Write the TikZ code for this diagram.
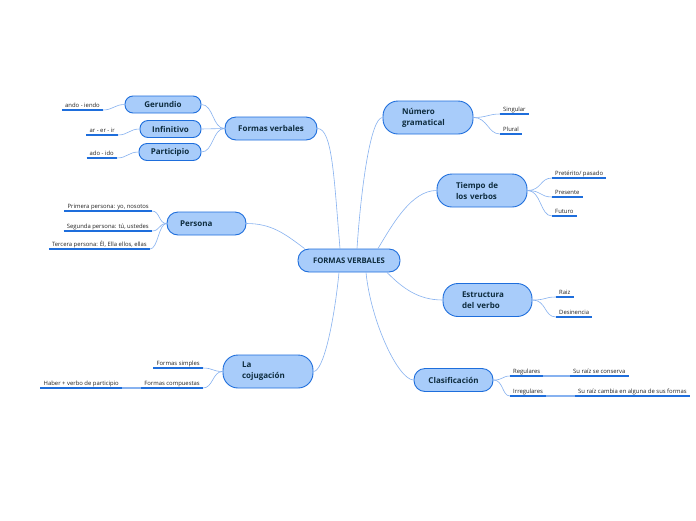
\documentclass[tikz,border=0pt]{standalone}
\usepackage{fontspec}
\setmainfont{Open Sans}
\usepackage{tikz}
\usetikzlibrary{positioning}
\definecolor{nodefill}{RGB}{168,204,250}
\definecolor{nodeblue}{RGB}{30,110,220}
\definecolor{linkblue}{RGB}{135,178,240}
\definecolor{nodetext}{RGB}{14,44,62}
\definecolor{leaftext}{RGB}{35,35,35}

\begin{document}
\begin{tikzpicture}[x=1pt, y=-1pt,
  topic/.style={draw=nodeblue, fill=nodefill, line width=0.9pt, text=nodetext,
    font=\bfseries\fontsize{8}{11}\selectfont, inner xsep=0pt, inner ysep=0pt},
  one/.style={minimum height=23pt, rounded corners=11pt},
  small/.style={minimum height=17pt, rounded corners=8pt},
  two/.style={minimum height=33pt, rounded corners=15pt, text width=52pt, inner xsep=19pt, align=left},
  leaf/.style={text=leaftext, font=\fontsize{5.9}{7}\selectfont, inner xsep=3pt, inner ysep=1pt,
    text height=4.5pt, text depth=1.5pt},
  link/.style={draw=linkblue, line width=0.6pt},
  uline/.style={draw=nodeblue, line width=1.3pt}]

  % Canvas
  \fill[white] (0,0) rectangle (696,520);
  \useasboundingbox (0,0) rectangle (696,520);

  % Central topic
  \node[topic, minimum width=102pt, minimum height=23pt, rounded corners=11pt,
    font=\bfseries\fontsize{7.7}{9}\selectfont] (cent) at (349,260.5) {FORMAS VERBALES};

  % Left - Formas verbales
  \node[topic, one, minimum width=92pt] (fverb) at (271,128.5) {Formas verbales};
  \node[topic, small, minimum width=76pt] (gerund) at (163,104.5) {Gerundio};
  \node[topic, small, minimum width=61pt] (infin) at (170.5,129) {Infinitivo};
  \node[topic, small, minimum width=62pt] (partic) at (170,152) {Participio};
  \node[leaf, anchor=south east] (gerundL) at (103,110) {ando - iendo};
  \node[leaf, anchor=south east] (infinL) at (118,135) {ar - er - ir};
  \node[leaf, anchor=south east] (particL) at (117,158) {ado - ido};

  % Left - Persona
  \node[topic, one, text width=53pt, inner xsep=13pt, align=left] (persona) at (206.5,223.5) {Persona};
  \node[leaf, anchor=south east] (primL) at (152,211) {Primera persona: yo, nosotos};
  \node[leaf, anchor=south east] (segL) at (152,231) {Segunda persona: tú, ustedes};
  \node[leaf, anchor=south east] (terL) at (150,249) {Tercera persona: Él, Ella ellos, ellas};

  % Left - La cojugacion
  \node[topic, two] (conj) at (268,371.5) {La\\cojugación};
  \node[leaf, anchor=south east] (simpL) at (203,368) {Formas simples};
  \node[leaf, anchor=south east] (compL) at (203,388) {Formas compuestas};
  \node[leaf, anchor=south east] (haberL) at (122,388) {Haber + verbo de participio};

  % Right - Numero gramatical
  \node[topic, two] (numero) at (428,117.5) {Número\\gramatical};
  \node[leaf, anchor=south west] (singL) at (500,114) {Singular};
  \node[leaf, anchor=south west] (plurL) at (500,134) {Plural};

  % Right - Tiempo de los verbos
  \node[topic, two] (tiempo) at (482,190.5) {Tiempo de\\los verbos};
  \node[leaf, anchor=south west] (pretL) at (552,178) {Pretérito/ pasado};
  \node[leaf, anchor=south west] (presL) at (552,197) {Presente};
  \node[leaf, anchor=south west] (futL) at (552,216) {Futuro};

  % Right - Estructura del verbo
  \node[topic, two, text width=51pt] (estruc) at (487.5,300) {Estructura\\del verbo};
  \node[leaf, anchor=south west] (raizL) at (556,297) {Raiz};
  \node[leaf, anchor=south west] (desL) at (556,317) {Desinencia};

  % Right - Clasificacion
  \node[topic, one, minimum width=79pt] (clasif) at (453.5,380) {Clasificación};
  \node[leaf, anchor=south west] (regL) at (510,376) {Regulares};
  \node[leaf, anchor=south west] (irregL) at (510,396) {Irregulares};
  \node[leaf, anchor=south west] (conservaL) at (570,376) {Su raíz se conserva};
  \node[leaf, anchor=south west] (cambiaL) at (575,396) {Su raíz cambia en alguna de sus formas};

  % Main branches
  \draw[link] (fverb.east) .. controls +(15,0) and +(-6,-70) .. ([xshift=-9pt]cent.north);
  \draw[link] (persona.east) .. controls +(25,0) and +(-20,-15) .. ([xshift=7pt]cent.north west);
  \draw[link] (conj.east) .. controls +(10,0) and +(-5,50) .. ([xshift=-10pt]cent.south);
  \draw[link] (numero.west) .. controls +(-12,0) and +(4,-60) .. ([xshift=8pt]cent.north);
  \draw[link] (tiempo.west) .. controls +(-25,0) and +(15,-25) .. ([xshift=29pt]cent.north);
  \draw[link] (estruc.west) .. controls +(-25,0) and +(15,15) .. ([xshift=38pt]cent.south);
  \draw[link] (clasif.west) .. controls +(-15,0) and +(5,50) .. ([xshift=17pt]cent.south);

  % Sub branches, left side
  \foreach \c in {gerund, infin, partic}
    \draw[link] (fverb.west) .. controls +(-12,0) and +(12,0) .. (\c.east);
  \foreach \a/\b in {gerund/gerundL, infin/infinL, partic/particL}
    \draw[link] (\a.west) .. controls +(-10,0) and +(10,0) .. (\b.south east);
  \foreach \b in {primL, segL, terL}
    \draw[link] (persona.west) .. controls +(-8,0) and +(8,0) .. (\b.south east);
  \foreach \b in {simpL, compL}
    \draw[link] (conj.west) .. controls +(-10,0) and +(10,0) .. (\b.south east);
  \draw[linkblue, line width=1.2pt] (compL.south west) -- (haberL.south east);

  % Sub branches, right side
  \foreach \b in {singL, plurL}
    \draw[link] (numero.east) .. controls +(14,0) and +(-12,0) .. (\b.south west);
  \foreach \b in {pretL, presL, futL}
    \draw[link] (tiempo.east) .. controls +(14,0) and +(-12,0) .. (\b.south west);
  \foreach \b in {raizL, desL}
    \draw[link] (estruc.east) .. controls +(14,0) and +(-12,0) .. (\b.south west);
  \foreach \b in {regL, irregL}
    \draw[link] (clasif.east) .. controls +(10,0) and +(-8,0) .. (\b.south west);
  \draw[linkblue, line width=1.2pt] (regL.south east) -- (conservaL.south west);
  \draw[linkblue, line width=1.2pt] (irregL.south east) -- (cambiaL.south west);

  % Leaf underlines
  \foreach \n in {gerundL, infinL, particL, primL, segL, terL, simpL, compL, haberL,
      singL, plurL, pretL, presL, futL, raizL, desL, regL, irregL, conservaL, cambiaL}
    \draw[uline] (\n.south west) -- (\n.south east);

\end{tikzpicture}
\end{document}
